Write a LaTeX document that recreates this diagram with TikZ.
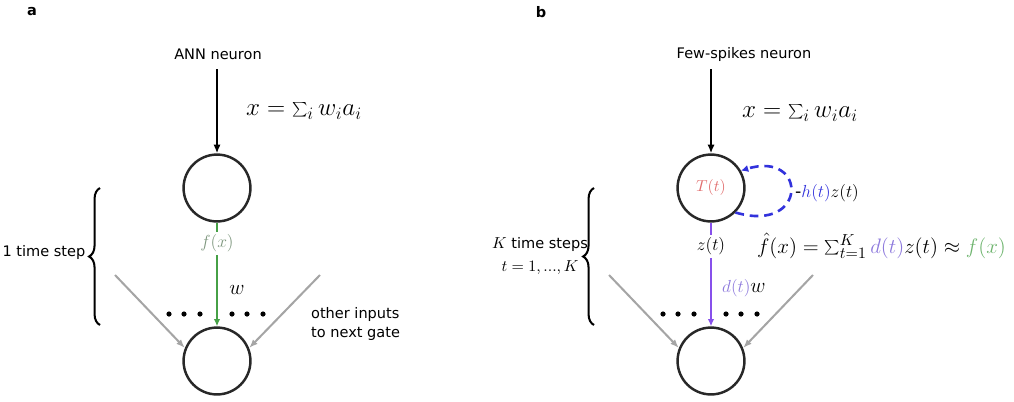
\documentclass[tikz,border=0pt]{standalone}
\usepackage{fontspec}
\setmainfont{DejaVu Sans}
\usetikzlibrary{arrows.meta,decorations.pathreplacing}
\definecolor{ncol}{RGB}{40,40,40}
\definecolor{sidegray}{RGB}{165,165,165}
\definecolor{gline}{RGB}{70,160,70}
\definecolor{glab}{RGB}{125,150,125}
\definecolor{fcol}{RGB}{110,180,110}
\definecolor{pline}{RGB}{135,80,235}
\definecolor{dcol}{RGB}{140,120,220}
\definecolor{tcol}{RGB}{225,110,110}
\definecolor{hcol}{RGB}{50,50,220}
\begin{document}
\begin{tikzpicture}[x=0.688pt,y=-0.688pt,
  neuron/.style={circle,draw=ncol,line width=1.7pt,minimum size=46pt,inner sep=0pt},
  inarrow/.style={draw=black,line width=1.8pt,-{Latex[length=6pt,width=5pt]}},
  greenline/.style={draw=gline,line width=1.8pt,-{Latex[length=5pt,width=4.5pt]}},
  purpleline/.style={draw=pline,line width=1.8pt,-{Latex[length=5pt,width=4.5pt]}},
  side/.style={draw=sidegray,line width=1.4pt,-{Latex[length=6pt,width=4.5pt]}},
  loopline/.style={draw=hcol,line width=1.8pt,dash pattern=on 6pt off 4pt,-{Latex[length=5pt,width=5pt]}},
  bracest/.style={draw=black,line width=1.4pt,decorate,decoration={brace,amplitude=7.5pt}},
  big/.style={font=\fontsize{15}{18}\selectfont},
  bigger/.style={font=\fontsize{17.5}{20}\selectfont},
  small/.style={font=\fontsize{11.5}{13}\selectfont},
  txt/.style={font=\fontsize{10}{13}\selectfont},
  gaplab/.style={fill=white,inner sep=2pt}]
\useasboundingbox (0,0) rectangle (1014,401);

% ---------- panel a ----------
\node[txt,font=\fontsize{10}{12}\selectfont\bfseries] (la) at (32,12) {a};
\node[txt] (ta) at (218,54) {ANN neuron};
\node[neuron] (na) at (217,188) {};
\node[neuron] (ma) at (217,361) {};
\coordinate (ia) at (217,69);
\draw[inarrow] (ia) -- (na);
\draw[greenline] (na) -- node[pos=0.2,gaplab,small,text=glab] (fxa) {$f(x)$} (ma);
\node[big] (wa) at (237,290) {$w$};
\foreach \dx in {-48,-33,-17,15,30,46} \fill (217+\dx,314) circle (2.6);
\coordinate (sa1) at (115,275);
\coordinate (sa2) at (320,275);
\draw[side] (sa1) -- (ma.158);
\draw[side] (sa2) -- (ma.22);
\draw[bracest] (100,325) -- (100,188);
\node[txt] (ka) at (44,252) {1 time step};
\node[txt,align=left,anchor=west] (oa) at (306,324) {other inputs\\to next gate};
\node[bigger,anchor=west] (xa) at (241,111) {$x=\sum_i w_i a_i$};

% ---------- panel b ----------
\node[txt,font=\fontsize{10}{12}\selectfont\bfseries] (lb) at (541,12) {b};
\node[txt] (tb) at (744,54) {Few-spikes neuron};
\node[neuron] (nb) at (711,188) {\fontsize{11}{13}\selectfont$\color{tcol}T(t)$};
\node[neuron] (mb) at (711,361) {};
\coordinate (ib) at (711,69);
\draw[inarrow] (ib) -- (nb);
\draw[loopline] (nb.-45) .. controls (808,234) and (808,150) .. (nb.30);
\node[font=\fontsize{12}{14}\selectfont,anchor=west] (hb) at (790,193) {-$\color{hcol}h(t)$$z(t)$};
\draw[purpleline] (nb) -- node[pos=0.23,gaplab,font=\fontsize{11.5}{13}\selectfont] (zb) {$z(t)$} (mb);
\node[anchor=west] (dwb) at (717,288) {\fontsize{11.5}{13}\selectfont$\color{dcol}d(t)$\fontsize{15}{18}\selectfont$w$};
\foreach \dx in {-48,-33,-17,15,30,46} \fill (711+\dx,314) circle (2.6);
\coordinate (sb1) at (609,275);
\coordinate (sb2) at (813,275);
\draw[side] (sb1) -- (mb.158);
\draw[side] (sb2) -- (mb.22);
\draw[bracest] (594,325) -- (594,188);
\node[txt,align=center] (kb) at (540,256) {{\fontsize{11}{13}\selectfont$K$} time steps\\[3pt]{\fontsize{11}{13}\selectfont$t=1,...,K$}};
\node[bigger,anchor=west] (xb) at (737,113) {$x=\sum_i w_i a_i$};
\node[big,anchor=west] (fb) at (752,246) {$\hat f(x)=\sum_{t=1}^K {\color{dcol}d(t)} z(t)\approx {\color{fcol}f(x)}$};
\end{tikzpicture}
\end{document}
